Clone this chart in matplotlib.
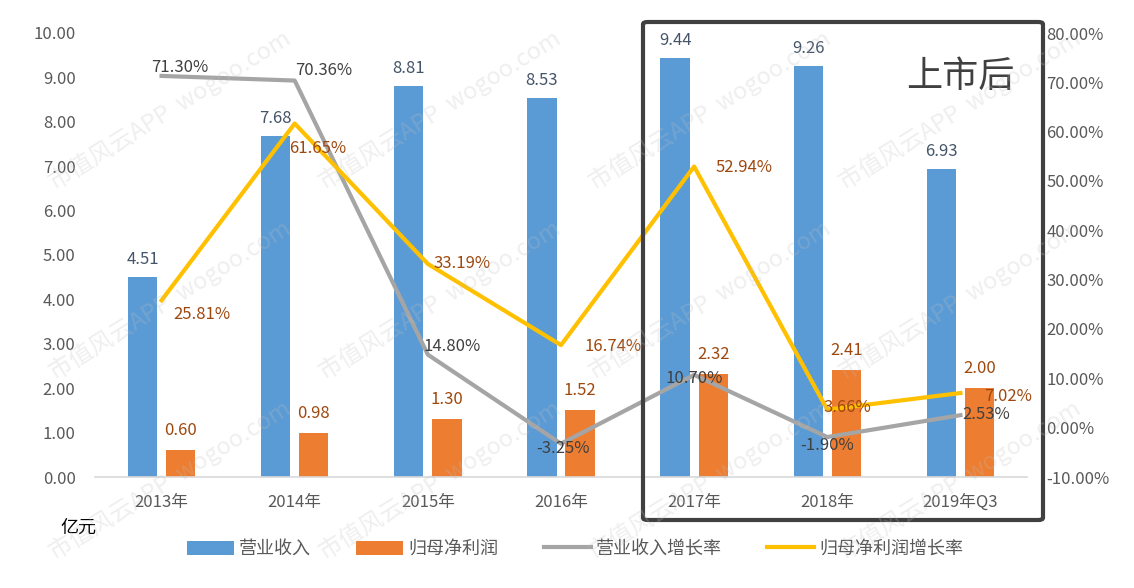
import numpy as np
import matplotlib.pyplot as plt
from matplotlib.patches import FancyBboxPatch
from matplotlib.ticker import FuncFormatter

plt.rcParams['font.family'] = ['Noto Sans CJK SC', 'DejaVu Sans']

# 数据
years = ['2013年', '2014年', '2015年', '2016年', '2017年', '2018年', '2019年Q3']
revenue = [4.51, 7.68, 8.81, 8.53, 9.44, 9.26, 6.93]          # 营业收入(亿元)
profit = [0.60, 0.98, 1.30, 1.52, 2.32, 2.41, 2.00]            # 归母净利润(亿元)
rev_growth = [71.30, 70.36, 14.80, -3.25, 10.70, -1.90, 2.53]  # 营业收入增长率(%)
prof_growth = [25.81, 61.65, 33.19, 16.74, 52.94, 3.66, 7.02]  # 归母净利润增长率(%)

# 标签偏移(像素)
rev_g_off = [(18, 8), (29, 10), (24, 8), (2, -5), (0, -4), (0, -8), (26, 1)]
prof_g_off = [(40, -14), (23, -25), (34, 0), (52, -1), (50, -1), (20, 2), (48, -3)]

c_blue = '#5B9BD5'
c_orange = '#ED7D31'
c_gray = '#A5A5A5'
c_yellow = '#FFC000'
tick_c = '#595959'

fig = plt.figure(figsize=(11.34, 5.88), dpi=100)
ax = fig.add_axes([95 / 1134, 1 - 477 / 588, 932 / 1134, 444 / 588])
ax2 = ax.twinx()

x = np.arange(len(years))
w = 0.22
b1 = ax.bar(x - 0.143, revenue, w, color=c_blue, label='营业收入', zorder=2)
b2 = ax.bar(x + 0.143, profit, w, color=c_orange, label='归母净利润', zorder=2)

for xi, v in zip(x, revenue):
    ax.annotate(f'{v:.2f}', (xi - 0.143, v), xytext=(0, 9), textcoords='offset pixels',
                ha='center', va='bottom', fontsize=12, color='#44546A')
for xi, v in zip(x, profit):
    ax.annotate(f'{v:.2f}', (xi + 0.143, v), xytext=(0, 11), textcoords='offset pixels',
                ha='center', va='bottom', fontsize=12, color='#9E480E')

ax.set_ylim(0, 10)
ax.set_xlim(-0.5, 6.5)
ax.set_yticks(np.arange(0, 10.01, 1))
ax.yaxis.set_major_formatter(FuncFormatter(lambda v, p: f'{v:.2f}'))
ax.set_xticks(x)
ax.set_xticklabels(years)
ax.tick_params(axis='y', length=0, pad=14, labelsize=12, labelcolor=tick_c)
ax.tick_params(axis='x', length=0, pad=12, labelsize=12, labelcolor=tick_c)
for s in ['top', 'right', 'left']:
    ax.spines[s].set_visible(False)
ax.spines['bottom'].set_color('#D9D9D9')
ax.spines['bottom'].set_linewidth(1.2)

l1, = ax2.plot(x, rev_growth, color=c_gray, lw=3, label='营业收入增长率', zorder=3)
l2, = ax2.plot(x, prof_growth, color=c_yellow, lw=3, label='归母净利润增长率', zorder=3)
for xi, v, off in zip(x, rev_growth, rev_g_off):
    ax2.annotate(f'{v:.2f}%', (xi, v), xytext=off, textcoords='offset pixels',
                 ha='center', va='center', fontsize=12, color='#404040', zorder=5)
for xi, v, off in zip(x, prof_growth, prof_g_off):
    ax2.annotate(f'{v:.2f}%', (xi, v), xytext=off, textcoords='offset pixels',
                 ha='center', va='center', fontsize=12, color='#9E480E', zorder=5)

ax2.set_ylim(-10, 80)
ax2.set_yticks(np.arange(-10, 80.1, 10))
ax2.yaxis.set_major_formatter(FuncFormatter(lambda v, p: f'{v:.2f}%'))
ax2.tick_params(axis='y', length=0, pad=14, labelsize=12, labelcolor=tick_c)
for s in ['top', 'right', 'left', 'bottom']:
    ax2.spines[s].set_visible(False)

# 上市后 框
box = FancyBboxPatch((643 / 1134, 1 - 520 / 588), 400 / 1134, 498 / 588,
                     boxstyle='round,pad=0,rounding_size=0.004', transform=fig.transFigure,
                     fill=False, edgecolor='#404040', lw=3, zorder=10)
fig.patches.append(box)
fig.text(960 / 1134, 1 - 77 / 588, '上市后', fontsize=26, color='#404040',
         ha='center', va='center')

fig.text(60 / 1134, 1 - 528 / 588, '亿元', fontsize=13, color='black', ha='left', va='center')

fig.legend(handles=[b1, b2, l1, l2], loc='center', bbox_to_anchor=(575 / 1134, 1 - 549 / 588),
           ncol=4, frameon=False, fontsize=13, handlelength=2.6, handleheight=0.8,
           handletextpad=0.3, columnspacing=2.5, labelcolor=tick_c)

# 水印
for wx in [170, 440, 710, 960]:
    for wy in [110, 300, 480]:
        fig.text(wx, 588 - wy, '市值风云APP  wogoo.com', transform=None,
                 fontsize=17, color='#BFBFBF', alpha=0.25, rotation=32,
                 ha='center', va='center', zorder=20)

fig.savefig('out.png', dpi=100)
